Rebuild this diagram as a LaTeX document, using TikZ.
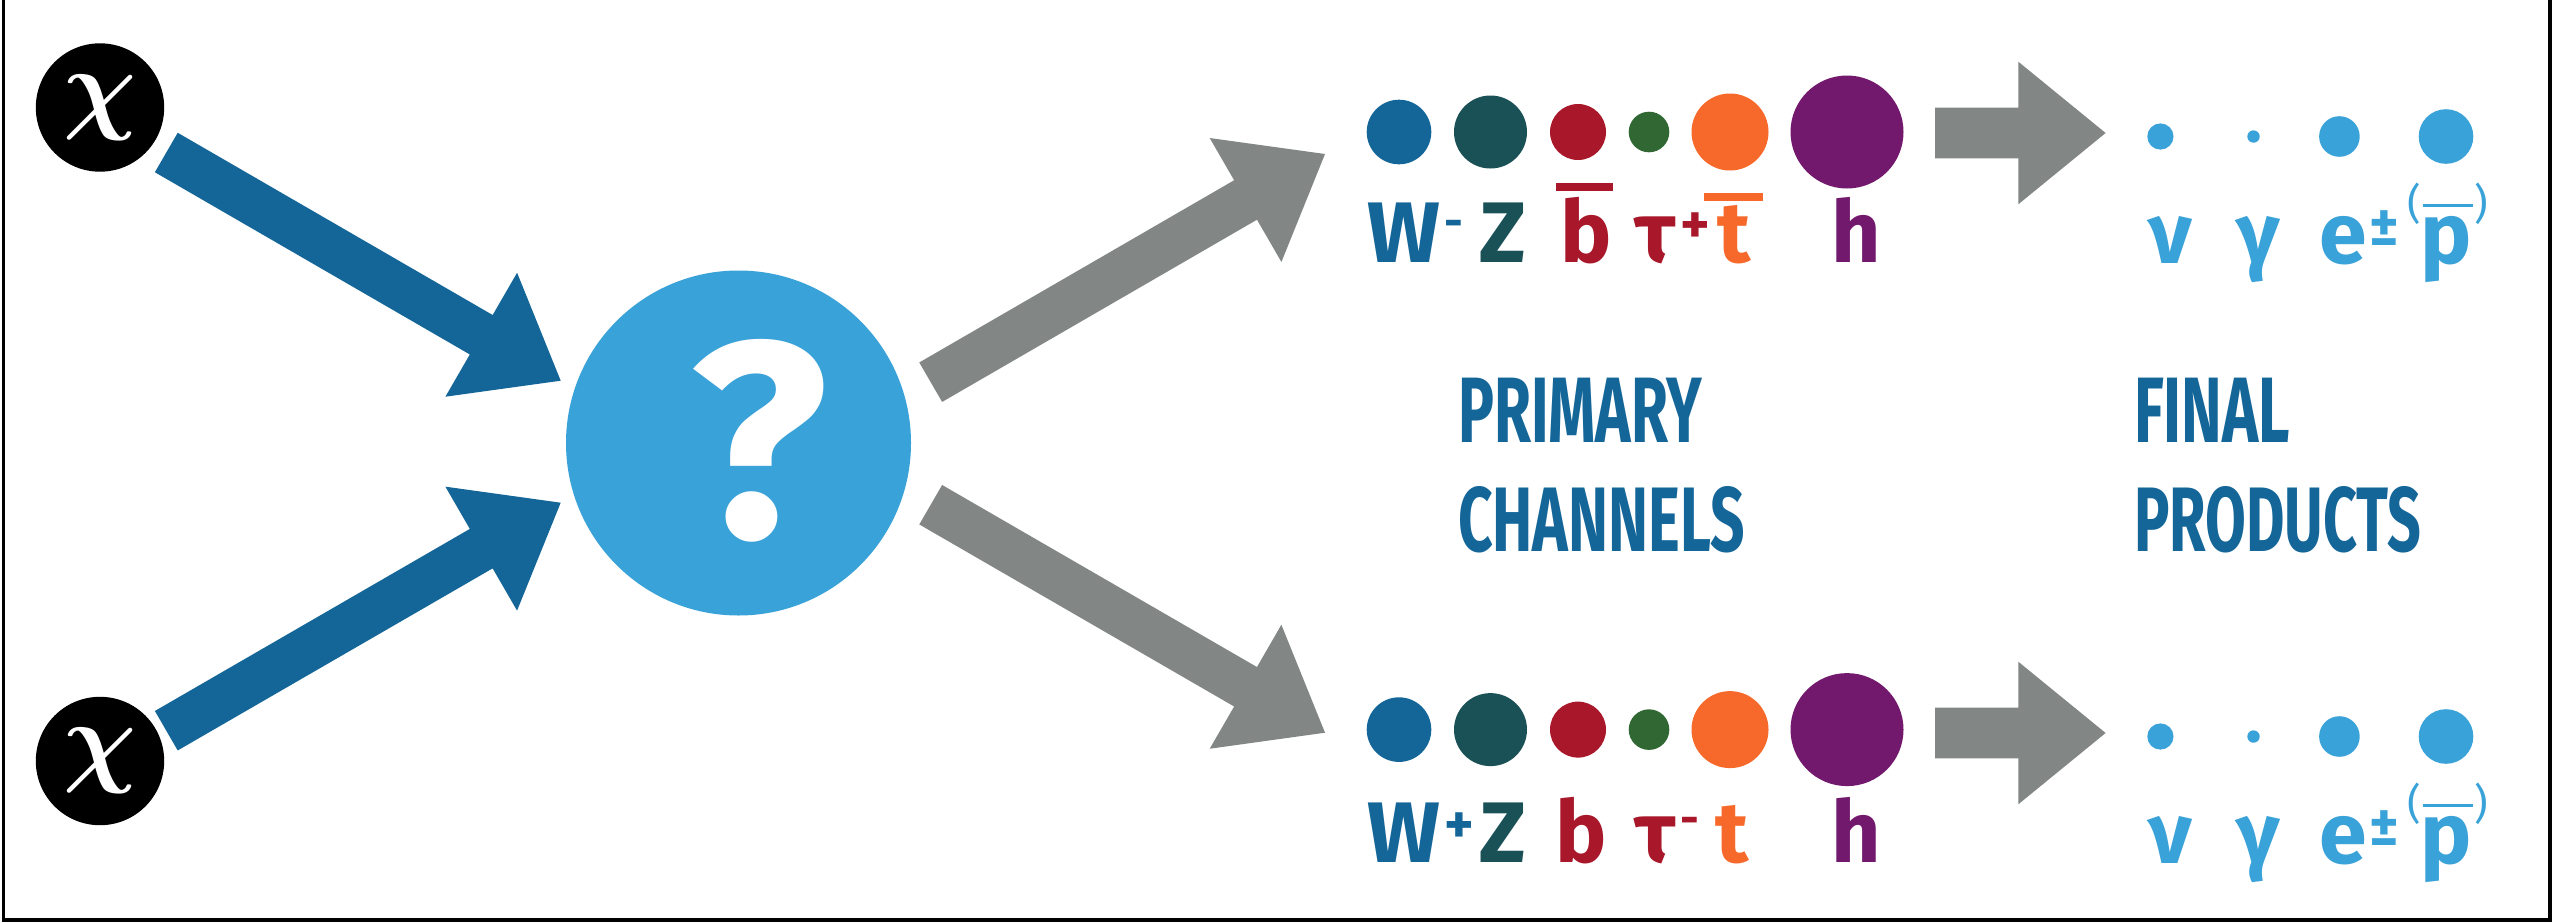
\RequirePackage{fix-cm}
\documentclass[tikz,border=0pt]{standalone}
\usepackage{fontspec}
\usepackage{graphicx}
\setmainfont{Fira Sans}
\usetikzlibrary{calc}

\definecolor{chanblue}{RGB}{20,102,153}
\definecolor{zteal}{RGB}{26,81,87}
\definecolor{bred}{RGB}{168,24,42}
\definecolor{taugreen}{RGB}{48,103,50}
\definecolor{torange}{RGB}{247,105,43}
\definecolor{hpurple}{RGB}{114,25,110}
\definecolor{lightblue}{RGB}{57,162,216}
\definecolor{arrowgray}{RGB}{130,135,134}

% block arrow from tail #1 to tip #2: shaft half width #3, head half width #4,
% head length #5, colour #6
\newcommand\fatarrow[6]{%
  \coordinate (fa-h) at ($(#2)!#5!(#1)$);
  \fill[#6] ($(#1)!#3!90:(#2)$) -- ($(fa-h)!#3!-90:(#1)$) -- ($(fa-h)!#4!-90:(#1)$)
    -- (#2) -- ($(fa-h)!#4!90:(#1)$) -- ($(fa-h)!#3!90:(#1)$) -- ($(#1)!#3!-90:(#2)$) -- cycle;
}

\begin{document}
\begin{tikzpicture}[x=1pt,y=-1pt,
  every node/.style={inner sep=0pt,outer sep=0pt},
  pdot/.style={circle,fill=#1},
  lab/.style={font=\fontsize{86}{86}\selectfont\bfseries,text=#1,anchor=base},
  supr/.style={font=\fontsize{56}{56}\selectfont\bfseries,text=#1,anchor=center},
  dashsup/.style={font=\fontsize{46}{46}\selectfont\bfseries,text=#1,anchor=center},
  paren/.style={font=\fontsize{42}{42}\selectfont,text=lightblue,anchor=center},
  heading/.style={text=chanblue,anchor=base west,font=\bfseries},
  chinode/.style={circle,fill=black,minimum size=128.4pt,text=white,
    font=\fontsize{102}{102}\selectfont\boldmath}]

\useasboundingbox (0,0) rectangle (2552,922);
\fill[white] (0,0) rectangle (2552,922);
\draw[line width=3.2pt] (3.3,0) -- (3.3,920) -- (2550,920) -- (2550,0);

% incoming particles and annihilation vertex
\node[chinode] (chi1) at (100,107.5) {$\chi$};
\node[chinode] (chi2) at (100,761) {$\chi$};
\node[circle,fill=lightblue,minimum size=345pt] (q) at (738.5,443) {};
\node[font=\bfseries,text=white,anchor=base] (qm) at (758.5,537.3) {\resizebox{138pt}{198pt}{?}};

% block arrows
\coordinate (a1s) at (166.3,152.5); \coordinate (a1e) at (560.7,380.7);
\coordinate (a2s) at (166.3,730.7); \coordinate (a2e) at (560.7,502.7);
\coordinate (g1s) at (930.7,382.2); \coordinate (g1e) at (1325,154);
\coordinate (g2s) at (930.7,504.7); \coordinate (g2e) at (1325,732.7);
\fatarrow{a1s}{a1e}{22.8pt}{71.6pt}{91.8pt}{chanblue}
\fatarrow{a2s}{a2e}{22.8pt}{71.6pt}{91.8pt}{chanblue}
\fatarrow{g1s}{g1e}{22.8pt}{71.6pt}{91.8pt}{arrowgray}
\fatarrow{g2s}{g2e}{22.8pt}{71.6pt}{91.8pt}{arrowgray}

% upper primary channels
\node[pdot=chanblue,minimum size=64.6pt] (w1) at (1399,132) {};
\node[pdot=zteal,minimum size=73pt] (z1) at (1490.5,132) {};
\node[pdot=bred,minimum size=56pt] (b1) at (1578,132) {};
\node[pdot=taugreen,minimum size=40.6pt] (ta1) at (1649,132) {};
\node[pdot=torange,minimum size=77pt] (t1) at (1730,132) {};
\node[pdot=hpurple,minimum size=113pt] (h1) at (1847,132) {};
\node[lab=chanblue] (lw1) at (1403.5,262.7) {W};
\node[dashsup=chanblue] (sw1) at (1453.4,228.4) {-};
\node[lab=zteal] (lz1) at (1502.8,262.7) {Z};
\node[lab=bred] (lb1) at (1586.5,262.7) {b};
\draw[bred,line width=7.4pt] (1556,187) -- (1613.3,187);
\node[lab=bred] (lta1) at (1654.8,262.7) {τ};
\node[supr=bred] (sta1) at (1695.4,228.2) {+};
\node[lab=torange] (lt1) at (1734,262.7) {t};
\draw[torange,line width=7.7pt] (1704,197.2) -- (1762.5,197.2);
\node[lab=hpurple] (lh1) at (1856.7,262.7) {h};

% lower primary channels
\node[pdot=chanblue,minimum size=64.6pt] (w2) at (1399,729.6) {};
\node[pdot=zteal,minimum size=73pt] (z2) at (1490.5,729.6) {};
\node[pdot=bred,minimum size=56pt] (b2) at (1578,729.6) {};
\node[pdot=taugreen,minimum size=40.6pt] (ta2) at (1649,729.6) {};
\node[pdot=torange,minimum size=77pt] (t2) at (1730,729.6) {};
\node[pdot=hpurple,minimum size=113pt] (h2) at (1847,729.6) {};
\node[lab=chanblue] (lw2) at (1403.5,862.7) {W};
\node[supr=chanblue] (sw2) at (1459.5,828.2) {+};
\node[lab=zteal] (lz2) at (1502.8,862.7) {Z};
\node[lab=bred] (lb2) at (1581,862.7) {b};
\node[lab=bred] (lta2) at (1654.8,862.7) {τ};
\node[dashsup=bred] (sta2) at (1690,826) {-};
\node[lab=torange] (lt2) at (1731.6,862.7) {t};
\node[lab=hpurple] (lh2) at (1856.7,862.7) {h};

% headings
\node[heading] (prim) at (1458,442.7) {\resizebox{244pt}{64.4pt}{PRIMARY}};
\node[heading] (chan) at (1458,551.7) {\resizebox{287pt}{65pt}{CHANNELS}};
\node[heading] (fin) at (2134,442.7) {\resizebox{156pt}{64.4pt}{FINAL}};
\node[heading] (prod) at (2134,551.7) {\resizebox{287pt}{65pt}{PRODUCTS}};

% final products, upper and lower rows
\foreach \dy/\r in {0/1,600/2}{
  \coordinate (hs\r) at (1935.2,133+\dy);
  \coordinate (he\r) at (2105.6,133+\dy);
  \fatarrow{hs\r}{he\r}{25.3pt}{71.3pt}{87.3pt}{arrowgray}
  \node[pdot=lightblue,minimum size=26.2pt] (nu\r) at (2160.4,136.5+\dy) {};
  \node[pdot=lightblue,minimum size=12.4pt] (ga\r) at (2253.5,136.5+\dy) {};
  \node[pdot=lightblue,minimum size=40.6pt] (el\r) at (2339.4,136.5+\dy) {};
  \node[pdot=lightblue,minimum size=54.6pt] (pr\r) at (2446,136.5+\dy) {};
  \node[lab=lightblue] (lnu\r) at (2170,263+\dy) {ν};
  \node[lab=lightblue] (lga\r) at (2258.3,263+\dy) {γ};
  \node[lab=lightblue] (lel\r) at (2343.5,263+\dy) {e};
  \node[supr=lightblue] (pm\r) at (2384.5,228.5+\dy) {±};
  \node[paren] (lpa\r) at (2414.5,204+\dy) {(};
  \node[lab=lightblue] (lpr\r) at (2446,263+\dy) {p};
  \node[paren] (rpa\r) at (2481.3,204+\dy) {)};
  \draw[lightblue,line width=3.4pt] (2422.5,205.6+\dy) -- (2472.8,205.6+\dy);
}
\end{tikzpicture}
\end{document}
